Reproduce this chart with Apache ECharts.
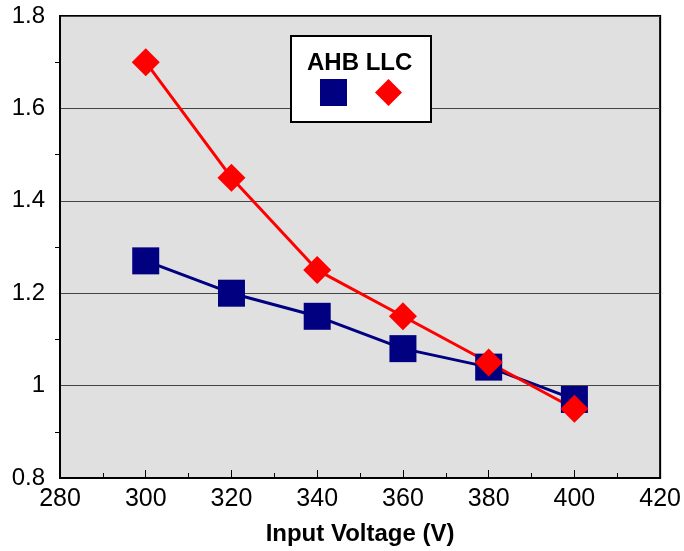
<!DOCTYPE html>
<html><head><meta charset="utf-8">
<script src="https://cdn.jsdelivr.net/npm/echarts@6/dist/echarts.min.js"></script>
<style>html,body{margin:0;padding:0;background:#fff}#c{width:684px;height:551px}</style>
</head><body><div id="c"></div>
<script>
const voltages = [300, 320, 340, 360, 380, 400];
const ahbValues = [1.27, 1.20, 1.15, 1.08, 1.04, 0.97];
const llcValues = [1.70, 1.45, 1.25, 1.15, 1.05, 0.95];
const xTitle = 'Input Voltage (V)';
const legendTitle = 'AHB LLC';

const chart = echarts.init(document.getElementById('c'));
const font = '"Liberation Sans", Arial, sans-serif';
chart.setOption({
  animation: false,
  backgroundColor: '#fff',
  grid: { left: 60, top: 16, right: 23, bottom: 70, show: true, backgroundColor: '#e0e0e0', borderColor: '#000', borderWidth: 2 },
  xAxis: {
    type: 'value', min: 280, max: 420, interval: 20,
    name: xTitle, nameLocation: 'middle', nameGap: 44,
    nameTextStyle: { fontFamily: font, fontSize: 24, fontWeight: 'bold', color: '#000' },
    axisLine: { lineStyle: { color: '#000', width: 2 } },
    axisTick: { inside: true, length: 8, lineStyle: { color: '#000', width: 1 } },
    minorTick: { show: true, splitNumber: 2, length: 5, lineStyle: { color: '#000' } },
    axisLabel: { fontFamily: font, fontSize: 25, color: '#000', margin: 9 },
    splitLine: { show: false }
  },
  yAxis: {
    type: 'value', min: 0.8, max: 1.8, interval: 0.2,
    axisLine: { show: true, lineStyle: { color: '#000', width: 2 } },
    axisTick: { show: false },
    minorTick: { show: true, splitNumber: 2, length: 5, lineStyle: { color: '#000' } },
    axisLabel: { fontFamily: font, fontSize: 24, color: '#000', margin: 15, formatter: v => String(+v.toFixed(1)) },
    splitLine: { show: true, lineStyle: { color: '#444', width: 1 } }
  },
  legend: {
    data: [{ name: 'AHB', icon: 'rect' }, { name: 'LLC', icon: 'diamond' }],
    left: 320, top: 79, itemGap: 28, itemWidth: 27, itemHeight: 27, z: 60,
    formatter: () => '', selectedMode: false, padding: 0, textStyle: { fontSize: 1 }
  },
  graphic: [
    { type: 'rect', left: 290, top: 35, shape: { width: 140, height: 86 }, style: { fill: '#fff', stroke: '#000', lineWidth: 2 }, z: 50 },
    { type: 'text', left: 307, top: 51, style: { text: legendTitle, font: 'bold 24px "Liberation Sans", Arial, sans-serif', fill: '#000' }, z: 51 }
  ],
  series: [
    { name: 'AHB', type: 'line', data: voltages.map((v, i) => [v, ahbValues[i]]), symbol: 'rect', symbolSize: 27,
      itemStyle: { color: '#000080' }, lineStyle: { color: '#000080', width: 3 } },
    { name: 'LLC', type: 'line', data: voltages.map((v, i) => [v, llcValues[i]]), symbol: 'diamond', symbolSize: 28,
      itemStyle: { color: '#ff0000' }, lineStyle: { color: '#ff0000', width: 3 } }
  ]
});
</script></body></html>
